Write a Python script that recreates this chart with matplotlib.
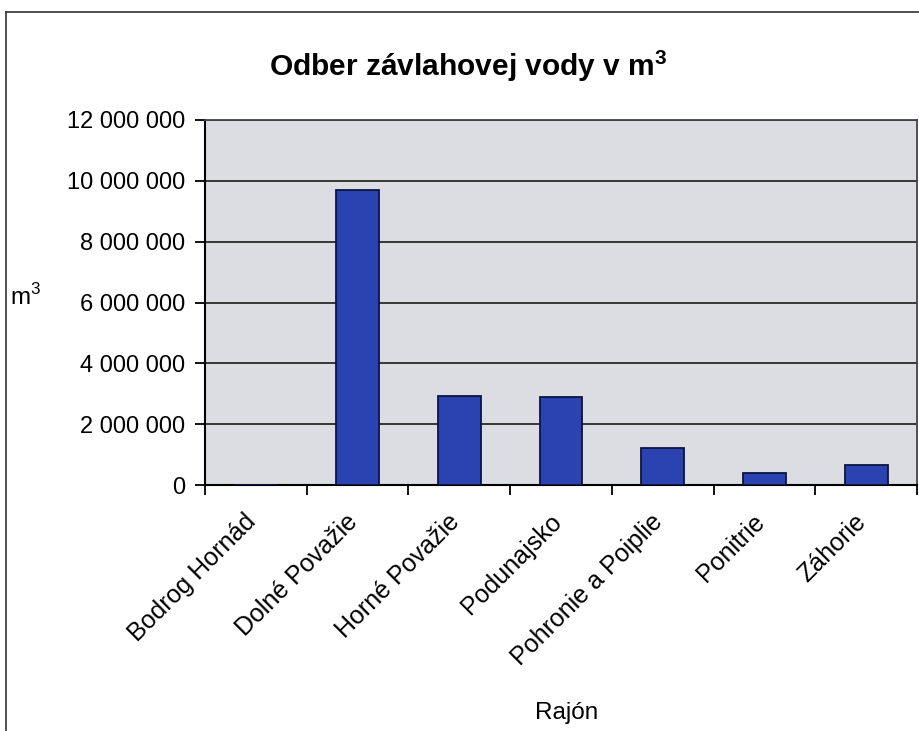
import matplotlib
matplotlib.use('Agg')
import matplotlib.pyplot as plt
import matplotlib.ticker as ticker
import matplotlib.transforms as mtransforms
from matplotlib.lines import Line2D
import numpy as np

plt.rcParams['font.family'] = ['Liberation Sans', 'DejaVu Sans']
plt.rcParams['mathtext.fontset'] = 'custom'
plt.rcParams['mathtext.rm'] = 'Liberation Sans'
plt.rcParams['mathtext.bf'] = 'Liberation Sans:bold'

## DATA
rajony = ['Bodrog Hornád', 'Dolné Považie', 'Horné Považie', 'Podunajsko',
          'Pohronie a Poiplie', 'Ponitrie', 'Záhorie']
odber = [0, 9700000, 2930000, 2880000, 1210000, 400000, 650000]
y_ticks = [0, 2000000, 4000000, 6000000, 8000000, 10000000, 12000000]

fig = plt.figure(figsize=(9.2, 7.31), dpi=100)
ax = fig.add_axes([205/920, 1 - 485/731, (917 - 205)/920, (485 - 120)/731])
ax.set_facecolor('#dcdde2')

x = np.arange(len(rajony))
ax.bar(x, odber, width=0.42, color='#2a43b0', edgecolor='#0d1440', linewidth=1.3, zorder=3)

ax.set_xlim(-0.5, len(rajony) - 0.5)
ax.set_ylim(0, 12000000)
ax.set_yticks(y_ticks)
ax.yaxis.set_major_formatter(ticker.FuncFormatter(lambda v, p: f'{int(v):,}'.replace(',', ' ')))
ax.yaxis.grid(True, color='#2a2a2a', linewidth=1.3, zorder=1)
ax.set_axisbelow(True)

# category ticks at boundaries, labels at centres
ax.set_xticks(x)
ax.set_xticklabels(rajony, rotation=45, ha='right', va='top', rotation_mode='anchor', fontsize=18)
ax.tick_params(axis='x', which='major', length=0, pad=14)
ax.set_xticks(np.arange(len(rajony) + 1) - 0.5, minor=True)
ax.tick_params(axis='x', which='minor', length=7, width=1.3, direction='out')
ax.tick_params(axis='y', length=7, width=1.3, direction='out', labelsize=17, pad=7)

# nudge labels a bit left/down like the original
shift = mtransforms.ScaledTranslation(-12/100, -5/100, fig.dpi_scale_trans)
for lbl in ax.get_xticklabels():
    lbl.set_transform(lbl.get_transform() + shift)

for s in ['left', 'bottom']:
    ax.spines[s].set_color('black')
    ax.spines[s].set_linewidth(1.5)
for s in ['top', 'right']:
    ax.spines[s].set_color('#444444')
    ax.spines[s].set_linewidth(1.3)

fig.text(468/920, 1 - 66/731, r'Odber závlahovej vody v $\mathbf{m^3}$', ha='center', va='center',
         fontsize=21.5, fontweight='bold')
fig.text(10/920, 1 - 297/731, r'm$^3$', ha='left', va='center', fontsize=17.5)
fig.text(567/920, 1 - 713/731, 'Rajón', ha='center', va='center', fontsize=17.5)

# chart area border (cut off at right and bottom)
fig.add_artist(Line2D([6/920, 1], [1 - 12/731, 1 - 12/731], transform=fig.transFigure, color='#333333', lw=1.2))
fig.add_artist(Line2D([6/920, 6/920], [0, 1 - 12/731], transform=fig.transFigure, color='#333333', lw=1.2))

fig.savefig('out.png', dpi=100, facecolor='white')
